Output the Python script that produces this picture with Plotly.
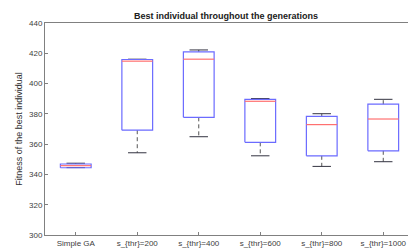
import plotly.graph_objects as go

categories = ["Simple GA", "s_{thr}=200", "s_{thr}=400", "s_{thr}=600", "s_{thr}=800", "s_{thr}=1000"]
lower = [344.5, 354.3, 364.9, 352.3, 345.3, 348.4]
q1 = [344.4, 369.2, 377.7, 361.2, 352.3, 355.6]
median = [345.8, 414.8, 416.1, 388.3, 372.9, 376.6]
q3 = [346.9, 415.9, 420.9, 389.6, 378.3, 386.4]
upper = [347.4, 416.1, 422.2, 390.1, 380.1, 389.6]
y_ticks = [300, 320, 340, 360, 380, 400, 420, 440]

pos = list(range(1, len(categories) + 1))
hw = 0.25   # half box width (category units)
cw = 0.15   # half cap width

wx, wy, cx, cy, bx, by, mx, my = [], [], [], [], [], [], [], []
for i, p in enumerate(pos):
    wx += [p, p, None, p, p, None]
    wy += [q3[i], upper[i], None, q1[i], lower[i], None]
    cx += [p - cw, p + cw, None, p - cw, p + cw, None]
    cy += [upper[i], upper[i], None, lower[i], lower[i], None]
    bx += [p - hw, p + hw, p + hw, p - hw, p - hw, None]
    by += [q1[i], q1[i], q3[i], q3[i], q1[i], None]
    mx += [p - hw, p + hw, None]
    my += [median[i], median[i], None]

fig = go.Figure()
fig.add_trace(go.Scatter(x=wx, y=wy, mode="lines", line=dict(color="#555555", width=1, dash="4px,3px"), hoverinfo="skip"))
fig.add_trace(go.Scatter(x=cx, y=cy, mode="lines", line=dict(color="#333340", width=1), hoverinfo="skip"))
fig.add_trace(go.Scatter(x=bx, y=by, mode="lines", line=dict(color="#6b6bff", width=1.2), hoverinfo="skip"))
fig.add_trace(go.Scatter(x=mx, y=my, mode="lines", line=dict(color="#ff7070", width=1.2), hoverinfo="skip"))

axis_common = dict(showline=True, linecolor="#808080", linewidth=1, mirror=True,
                   showgrid=False, zeroline=False, ticks="inside", ticklen=3,
                   tickcolor="#808080", tickfont=dict(size=8, color="#404040"))

fig.update_layout(
    width=416, height=249,
    margin=dict(l=37, r=9, t=15, b=17),
    paper_bgcolor="white", plot_bgcolor="white",
    showlegend=False,
    font=dict(family="Liberation Sans, Arial, sans-serif"),
    title=dict(text="<b>Best individual throughout the generations</b>",
               x=218 / 416, xanchor="center", y=0.97, yanchor="middle",
               font=dict(size=9, color="#202020")),
    xaxis=dict(range=[0.5, len(categories) + 0.5], tickvals=pos, ticktext=categories, **axis_common),
    yaxis=dict(range=[300, 440], tickvals=y_ticks,
               title=dict(text="Fitness of the best individual", font=dict(size=9, color="#303030"), standoff=4),
               **axis_common),
)

fig.write_html("out.html")
